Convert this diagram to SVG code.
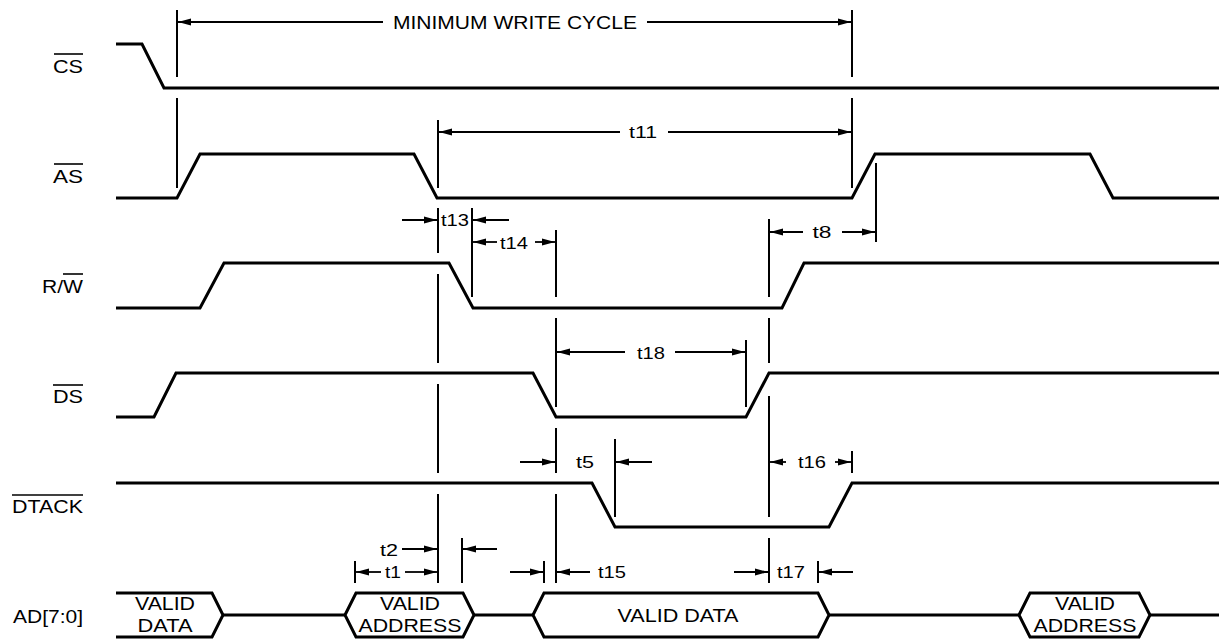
<svg xmlns="http://www.w3.org/2000/svg" width="1219" height="639" viewBox="0 0 1219 639">
<defs>
<marker id="ah" markerUnits="userSpaceOnUse" markerWidth="14" markerHeight="8" refX="13" refY="4" orient="auto">
<path d="M0,0.4 L13,4 L0,7.6 z" fill="#000"/>
</marker>
<style>
.sig{fill:none;stroke:#000;stroke-width:3;stroke-linejoin:miter}
.bus{fill:none;stroke:#000;stroke-width:3}
.v{stroke:#000;stroke-width:2;fill:none}
.a{stroke:#000;stroke-width:1.8;fill:none;marker-end:url(#ah)}
.ol{stroke:#000;stroke-width:1.6}
text{font-family:"Liberation Sans",Arial,Helvetica,sans-serif;fill:#000;font-size:17.5px}
.lbl{text-anchor:end;font-size:18px}
.t{text-anchor:middle;font-size:16.5px}
.b{text-anchor:middle}
</style>
</defs>
<rect width="1219" height="639" fill="#fff"/>

<g id="sig-cs">
<text class="lbl" x="83" y="73" textLength="30" lengthAdjust="spacingAndGlyphs">CS</text>
<line class="ol" x1="54" y1="54" x2="83" y2="54"/>
<path class="sig" d="M116,44 H142 L164,88 H1219"/>
</g>

<g id="sig-as">
<text class="lbl" x="83" y="183" textLength="30" lengthAdjust="spacingAndGlyphs">AS</text>
<line class="ol" x1="54" y1="164" x2="83" y2="164"/>
<path class="sig" d="M116,198 H177 L200,154 H414 L437,198 H852 L875,154 H1090 L1113,198 H1219"/>
</g>

<g id="sig-rw">
<text class="lbl" x="83" y="293" textLength="41" lengthAdjust="spacingAndGlyphs">R/W</text>
<line class="ol" x1="63" y1="274" x2="83" y2="274"/>
<path class="sig" d="M116,308 H200 L224,263 H449 L473,308 H782 L804,263 H1219"/>
</g>

<g id="sig-ds">
<text class="lbl" x="83" y="403" textLength="30" lengthAdjust="spacingAndGlyphs">DS</text>
<line class="ol" x1="53" y1="385" x2="83" y2="385"/>
<path class="sig" d="M116,417 H154 L176,373 H533 L556,417 H746 L769,373 H1219"/>
</g>

<g id="sig-dtack">
<text class="lbl" x="83" y="513" textLength="71" lengthAdjust="spacingAndGlyphs">DTACK</text>
<line class="ol" x1="12" y1="495" x2="83" y2="495"/>
<path class="sig" d="M116,483 H592 L615,527 H829 L852,483 H1219"/>
</g>

<g id="sig-ad">
<text class="lbl" x="83" y="623" textLength="70" lengthAdjust="spacingAndGlyphs">AD[7:0]</text>
<path class="bus" d="M116,593 H212 L223,615 L212,637 H116"/>
<path class="bus" d="M223,615 H345"/>
<path class="bus" d="M345,615 L356,593 H463 L474,615 L463,637 H356 Z"/>
<path class="bus" d="M474,615 H533"/>
<path class="bus" d="M533,615 L544,593 H818 L829,615 L818,637 H544 Z"/>
<path class="bus" d="M829,615 H1019"/>
<path class="bus" d="M1019,615 L1030,593 H1139 L1150,615 L1139,637 H1030 Z"/>
<path class="bus" d="M1150,615 H1219"/>
<text class="b" x="165" y="610" textLength="60" lengthAdjust="spacingAndGlyphs">VALID</text>
<text class="b" x="165" y="632" textLength="55" lengthAdjust="spacingAndGlyphs">DATA</text>
<text class="b" x="410" y="610" textLength="60" lengthAdjust="spacingAndGlyphs">VALID</text>
<text class="b" x="410" y="632" textLength="103" lengthAdjust="spacingAndGlyphs">ADDRESS</text>
<text class="b" x="678" y="622" textLength="121" lengthAdjust="spacingAndGlyphs">VALID DATA</text>
<text class="b" x="1085" y="610" textLength="60" lengthAdjust="spacingAndGlyphs">VALID</text>
<text class="b" x="1085" y="632" textLength="103" lengthAdjust="spacingAndGlyphs">ADDRESS</text>
</g>

<g id="connectors">
<path class="v" d="M177,10 V77 M177,98 V188"/>
<path class="v" d="M852,10 V77 M852,98 V188"/>
<path class="v" d="M438,120 V188 M438,208 V253 M438,274 V363 M438,384 V473 M438,494 V583"/>
<path class="v" d="M472,208 V297"/>
<path class="v" d="M556,230 V297 M556,318 V407 M556,428 V473 M556,494 V583"/>
<path class="v" d="M746,340 V407"/>
<path class="v" d="M769,219 V297 M769,318 V363 M769,396 V517 M769,538 V583"/>
<path class="v" d="M876,163 V242"/>
<path class="v" d="M615,439 V517"/>
<path class="v" d="M852,451 V473"/>
<path class="v" d="M462,538 V583"/>
<path class="v" d="M355,561 V583"/>
<path class="v" d="M544,561 V583"/>
<path class="v" d="M818,561 V583"/>

<line class="a" x1="383" y1="22" x2="178" y2="22"/>
<line class="a" x1="647" y1="22" x2="851" y2="22"/>
<text x="515" y="29" text-anchor="middle" font-size="18.5" textLength="244" lengthAdjust="spacingAndGlyphs">MINIMUM WRITE CYCLE</text>

<line class="a" x1="620" y1="132" x2="439" y2="132"/>
<line class="a" x1="668" y1="132" x2="851" y2="132"/>
<text class="t" x="643" y="138" textLength="28" lengthAdjust="spacingAndGlyphs">t11</text>

<line class="a" x1="402" y1="220" x2="437" y2="220"/>
<line class="a" x1="509" y1="220" x2="473" y2="220"/>
<text class="t" x="455" y="226" textLength="28" lengthAdjust="spacingAndGlyphs">t13</text>

<line class="a" x1="497" y1="242" x2="473" y2="242"/>
<line class="a" x1="535" y1="242" x2="555" y2="242"/>
<text class="t" x="514" y="249" textLength="28" lengthAdjust="spacingAndGlyphs">t14</text>

<line class="a" x1="803" y1="232" x2="770" y2="232"/>
<line class="a" x1="842" y1="232" x2="875" y2="232"/>
<text class="t" x="822" y="238" textLength="19" lengthAdjust="spacingAndGlyphs">t8</text>

<line class="a" x1="625" y1="352" x2="557" y2="352"/>
<line class="a" x1="675" y1="352" x2="745" y2="352"/>
<text class="t" x="651" y="359" textLength="28" lengthAdjust="spacingAndGlyphs">t18</text>

<line class="a" x1="520" y1="462" x2="555" y2="462"/>
<line class="a" x1="652" y1="462" x2="616" y2="462"/>
<text class="t" x="585" y="468" textLength="18" lengthAdjust="spacingAndGlyphs">t5</text>

<line class="a" x1="786" y1="462" x2="770" y2="462"/>
<line class="a" x1="835" y1="462" x2="851" y2="462"/>
<text class="t" x="812" y="468" textLength="28" lengthAdjust="spacingAndGlyphs">t16</text>

<line class="a" x1="402" y1="549" x2="437" y2="549"/>
<line class="a" x1="497" y1="549" x2="463" y2="549"/>
<text class="t" x="389" y="556" textLength="18" lengthAdjust="spacingAndGlyphs">t2</text>

<line class="a" x1="381" y1="572" x2="356" y2="572"/>
<line class="a" x1="405" y1="572" x2="437" y2="572"/>
<text class="t" x="393" y="578" textLength="16" lengthAdjust="spacingAndGlyphs">t1</text>

<line class="a" x1="510" y1="572" x2="543" y2="572"/>
<line class="a" x1="590" y1="572" x2="557" y2="572"/>
<text class="t" x="612" y="578" textLength="28" lengthAdjust="spacingAndGlyphs">t15</text>

<line class="a" x1="734" y1="572" x2="768" y2="572"/>
<line class="a" x1="853" y1="572" x2="819" y2="572"/>
<text class="t" x="791" y="578" textLength="28" lengthAdjust="spacingAndGlyphs">t17</text>
</g>
</svg>
